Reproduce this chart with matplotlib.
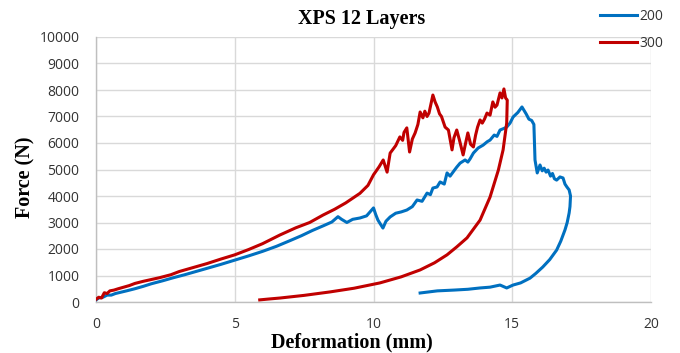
import matplotlib
matplotlib.use("Agg")
import matplotlib.pyplot as plt

# ---- data ----
x200 = [0, 0.1, 0.25, 0.4, 0.55, 0.7, 0.9, 1.1, 1.4, 1.7, 2.0, 2.4, 2.8, 3.2, 3.6, 4.0, 4.5, 5.0, 5.5,
        6.0, 6.5, 7.0, 7.4, 7.8, 8.2, 8.5, 8.72, 8.85, 9.04, 9.25, 9.51, 9.75, 10.0, 10.08, 10.16, 10.34,
        10.45, 10.6, 10.8, 11.0, 11.2, 11.4, 11.57, 11.75, 11.93, 12.05, 12.14, 12.29, 12.4, 12.55, 12.65,
        12.76, 12.9, 13.0, 13.12, 13.3, 13.4, 13.48, 13.6, 13.77, 13.95, 14.1, 14.2, 14.35, 14.45, 14.56,
        14.7, 14.8, 14.92, 15.03, 15.2, 15.35, 15.5, 15.6, 15.7, 15.78, 15.82, 15.9, 16.0, 16.08, 16.15,
        16.22, 16.29, 16.38, 16.45, 16.52, 16.6, 16.72, 16.83, 16.9, 16.97, 17.05, 17.1,
        17.08, 17.05, 16.98, 16.9, 16.75, 16.6, 16.35, 16.1, 15.85, 15.64, 15.3, 15.03, 14.8, 14.56,
        14.2, 13.84, 13.4, 12.9, 12.3, 11.68]
f200 = [80, 150, 180, 260, 260, 320, 370, 420, 500, 590, 690, 800, 920, 1030, 1150, 1270, 1420, 1580, 1740,
        1910, 2100, 2320, 2500, 2700, 2880, 3020, 3220, 3120, 3000, 3120, 3170, 3250, 3550, 3300, 3090, 2790,
        3050, 3210, 3350, 3400, 3470, 3600, 3850, 3800, 4110, 4050, 4300, 4340, 4530, 4450, 4870,
        4750, 4950, 5090, 5240, 5360, 5280, 5400, 5620, 5810, 5920, 6050, 6110, 6300, 6250, 6490,
        6550, 6600, 6750, 6980, 7150, 7360, 7100, 6900, 6850, 6700, 5360, 4870, 5170, 4950, 5050,
        4900, 4980, 4750, 4850, 4650, 4600, 4720, 4680, 4450, 4340, 4230, 4000,
        3600, 3360, 3000, 2720, 2300, 1960, 1600, 1320, 1080, 900, 720, 640, 530, 640,
        560, 530, 480, 450, 420, 340]

x300 = [0, 0.1, 0.2, 0.3, 0.4, 0.5, 0.65, 0.8, 1.0, 1.2, 1.4, 1.7, 2.0, 2.3, 2.7, 3.0, 3.5, 4.0, 4.5, 5.0,
        5.5, 6.0, 6.63, 7.2, 7.7, 8.18, 8.6, 9.0, 9.51, 9.8, 10.0, 10.2, 10.35, 10.49, 10.6, 10.8, 10.95,
        11.05, 11.1, 11.2, 11.3, 11.4, 11.5, 11.6, 11.68, 11.78, 11.85, 11.93, 12.0, 12.14, 12.22, 12.3,
        12.38, 12.45, 12.58, 12.7, 12.83, 12.9, 13.0, 13.1, 13.23, 13.32, 13.4, 13.5, 13.6, 13.68, 13.75,
        13.84, 13.92, 14.0, 14.09, 14.2, 14.3, 14.38, 14.45, 14.56, 14.63, 14.7, 14.76, 14.82, 14.8,
        14.67, 14.5, 14.2, 13.84, 13.37, 13.0, 12.65, 12.2, 11.68, 11.0,
        10.23, 9.3, 8.43, 7.5, 6.63, 6.2, 5.9]
f300 = [100, 180, 150, 350, 320, 420, 450, 500, 560, 620, 700, 780, 850, 920, 1030, 1150, 1300, 1450, 1620, 1780,
        1980, 2200, 2530, 2800, 3000, 3280, 3500, 3740, 4100, 4400, 4800, 5100, 5360, 4900, 5620, 5900, 6230,
        6100, 6400, 6570, 5660, 6150, 6380, 6700, 7170, 6950, 7200, 7000, 7130, 7810, 7550, 7360,
        7100, 7000, 6600, 6490, 5740, 6200, 6490, 6100, 5550, 6000, 6380, 5950, 5850, 6300, 6600,
        6870, 6750, 6900, 7130, 7050, 7550, 7350, 7430, 7890, 7700, 8040, 7700, 7620, 6750,
        5740, 4980, 3960, 3090, 2420, 2080, 1780, 1480, 1210, 950,
        720, 520, 380, 250, 150, 110, 80]

series_labels = ["200", "300"]
series_colors = ["#0070C0", "#C00000"]
xticks = [0, 5, 10, 15, 20]
yticks = list(range(0, 10001, 1000))

# ---- figure ----
fig = plt.figure(figsize=(6.8, 3.53), dpi=100)
ax = fig.add_axes([96/680, 51/353, 555/680, 265/353])

ax.plot(x200, f200, color=series_colors[0], lw=2.2, label=series_labels[0], zorder=3)
ax.plot(x300, f300, color=series_colors[1], lw=2.2, label=series_labels[1], zorder=3)

ax.set_xlim(0, 20)
ax.set_ylim(0, 10000)
ax.set_xticks(xticks)
ax.set_yticks(yticks)
ax.grid(True, color="#d9d9d9", lw=1.0, zorder=0)
ax.set_axisbelow(True)
for s in ["top", "right"]:
    ax.spines[s].set_visible(False)
for s in ["left", "bottom"]:
    ax.spines[s].set_color("#bfbfbf")
    ax.spines[s].set_linewidth(1.0)
ax.tick_params(length=0, labelsize=10, labelcolor="#333333")
ax.tick_params(axis="y", pad=12)
ax.tick_params(axis="x", pad=11)
for lab in ax.get_xticklabels() + ax.get_yticklabels():
    lab.set_family("Open Sans")

serif_bold = dict(family="Liberation Serif", fontweight="bold", fontsize=14.5)
ax.text((352-96)/555, (302-342)/265, "Deformation (mm)", transform=ax.transAxes,
        ha="center", va="center", **serif_bold)
ax.text((25-96)/555, (302-177)/265, "Force (N)", transform=ax.transAxes, rotation=90,
        ha="center", va="center", **serif_bold)
fig.text(362/680, 1-19/353, "XPS 12 Layers", ha="center", va="center", **serif_bold)

leg = ax.legend(loc="upper left", bbox_to_anchor=(600/680, 1-9/353), bbox_transform=fig.transFigure,
                frameon=False, handlelength=2.66, handletextpad=0.2, labelspacing=0.85,
                borderpad=0, borderaxespad=0, prop={"family": "Open Sans", "size": 10})
for t in leg.get_texts():
    t.set_color("#333333")

fig.savefig("out.png", dpi=100)
